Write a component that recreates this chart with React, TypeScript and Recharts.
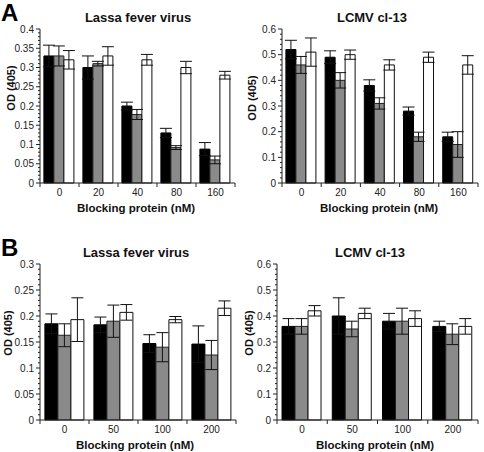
import { Bar, BarChart, ErrorBar, XAxis, YAxis } from "recharts";

const FONT = '"Liberation Sans", Arial, Helvetica, sans-serif';

// panel A: dose series
const dosesA = ["0", "20", "40", "80", "160"];
const lassaA_black = [0.33, 0.3, 0.2, 0.13, 0.088];
const lassaA_blackErr = [0.028, 0.03, 0.01, 0.012, 0.017];
const lassaA_gray = [0.33, 0.31, 0.178, 0.092, 0.06];
const lassaA_grayErr = [0.026, 0.006, 0.013, 0.005, 0.01];
const lassaA_white = [0.32, 0.33, 0.32, 0.3, 0.28];
const lassaA_whiteErr = [0.024, 0.024, 0.014, 0.016, 0.01];

const lcmvA_black = [0.52, 0.49, 0.38, 0.28, 0.18];
const lcmvA_blackErr = [0.036, 0.025, 0.022, 0.016, 0.018];
const lcmvA_gray = [0.46, 0.4, 0.31, 0.18, 0.15];
const lcmvA_grayErr = [0.033, 0.03, 0.022, 0.018, 0.05];
const lcmvA_white = [0.51, 0.5, 0.46, 0.49, 0.46];
const lcmvA_whiteErr = [0.055, 0.018, 0.02, 0.02, 0.036];

// panel B
const dosesB = ["0", "50", "100", "200"];
const lassaB_black = [0.185, 0.183, 0.147, 0.146];
const lassaB_blackErr = [0.019, 0.015, 0.017, 0.035];
const lassaB_gray = [0.163, 0.19, 0.14, 0.125];
const lassaB_grayErr = [0.022, 0.031, 0.028, 0.028];
const lassaB_white = [0.193, 0.207, 0.193, 0.215];
const lassaB_whiteErr = [0.042, 0.015, 0.006, 0.014];

const lcmvB_black = [0.36, 0.4, 0.38, 0.36];
const lcmvB_blackErr = [0.03, 0.07, 0.03, 0.02];
const lcmvB_gray = [0.36, 0.35, 0.38, 0.33];
const lcmvB_grayErr = [0.03, 0.03, 0.05, 0.04];
const lcmvB_white = [0.42, 0.41, 0.39, 0.36];
const lcmvB_whiteErr = [0.02, 0.02, 0.03, 0.03];

const ticks005_04 = [0, 0.05, 0.1, 0.15, 0.2, 0.25, 0.3, 0.35, 0.4];
const ticks01_06 = [0, 0.1, 0.2, 0.3, 0.4, 0.5, 0.6];
const ticks005_03 = [0, 0.05, 0.1, 0.15, 0.2, 0.25, 0.3];

function withMinor(majors: number[]) {
  const out: number[] = [];
  for (let i = 0; i < majors.length; i++) {
    out.push(majors[i]);
    if (i < majors.length - 1) {
      const step = (majors[i + 1] - majors[i]) / 5;
      for (let k = 1; k < 5; k++) out.push(majors[i] + step * k);
    }
  }
  return out;
}

function rows(cats: string[], b: number[], bE: number[], g: number[], gE: number[], w: number[], wE: number[]) {
  return cats.map((c, i) => ({ dose: c, b: b[i], bE: bE[i], g: g[i], gE: gE[i], w: w[i], wE: wE[i] }));
}

const W = 242;
const H = 226;

interface PanelProps {
  left: number;
  top: number;
  title: string;
  titleX: number;
  letter?: string;
  cats: string[];
  data: any[];
  yMax: number;
  majors: number[];
  plot: { l: number; r: number; t: number; b: number };
  yLabel: { x: number; y: number };
  xLabelX: number;
}

function Panel({ left, top, title, titleX, letter, cats, data, yMax, majors, plot, yLabel, xLabelX }: PanelProps) {
  const band = (plot.r - plot.l) / cats.length;
  const isMajor = (v: number) => majors.some((m) => Math.abs(m - v) < 1e-9);

  const YTick = (p: any) => {
    const v = p.payload.value;
    const major = isMajor(v);
    return (
      <g>
        <line x1={p.x - (major ? 4 : 2)} x2={p.x} y1={p.y} y2={p.y} stroke="#222" strokeWidth={1} />
        {major && (
          <text x={p.x - 6} y={p.y + 3.5} textAnchor="end" fontSize={10} fontFamily={FONT} fill="#222">
            {String(Number(v.toFixed(3)))}
          </text>
        )}
      </g>
    );
  };

  const XTick = (p: any) => (
    <g>
      <text x={p.x} y={p.y + 13} textAnchor="middle" fontSize={10} fontFamily={FONT} fill="#222">
        {p.payload.value}
      </text>
      <line x1={p.x + band / 2} x2={p.x + band / 2} y1={p.y} y2={p.y + 4} stroke="#222" />
      {p.index === 0 && <line x1={p.x - band / 2} x2={p.x - band / 2} y1={p.y} y2={p.y + 4} stroke="#222" />}
    </g>
  );

  return (
    <div style={{ position: "absolute", left, top, width: W, height: H }}>
      <BarChart
        width={W}
        height={H}
        data={data}
        margin={{ top: plot.t, right: W - plot.r, bottom: 0, left: 0 }}
        barCategoryGap="10%"
        barGap={0}
      >
        <XAxis
          xAxisId="bottom"
          dataKey="dose"
          height={H - plot.b}
          tickSize={0}
          tickMargin={0}
          tickLine={false}
          tick={XTick}
          interval={0}
          stroke="#222"
        />
        <XAxis xAxisId="top" dataKey="dose" orientation="top" height={0} tick={false} tickLine={false} stroke="#888" />
        <YAxis
          yAxisId="left"
          width={plot.l}
          domain={[0, yMax]}
          ticks={withMinor(majors)}
          interval={0}
          tickSize={0}
          tickMargin={0}
          tickLine={false}
          tick={YTick}
          stroke="#222"
        />
        <YAxis yAxisId="right" orientation="right" width={0} domain={[0, yMax]} tick={false} tickLine={false} stroke="#888" />
        <Bar xAxisId="bottom" yAxisId="left" dataKey="b" fill="#000" stroke="#000" isAnimationActive={false}>
          <ErrorBar dataKey="bE" width={6} stroke="#111" strokeWidth={1} direction="y" />
        </Bar>
        <Bar xAxisId="bottom" yAxisId="left" dataKey="g" fill="#8a8a8a" stroke="#222" isAnimationActive={false}>
          <ErrorBar dataKey="gE" width={6} stroke="#111" strokeWidth={1} direction="y" />
        </Bar>
        <Bar xAxisId="bottom" yAxisId="left" dataKey="w" fill="#fff" stroke="#111" isAnimationActive={false}>
          <ErrorBar dataKey="wE" width={6} stroke="#111" strokeWidth={1} direction="y" />
        </Bar>
      </BarChart>
      <svg width={W} height={H} style={{ position: "absolute", left: 0, top: 0, pointerEvents: "none" }}>
        {letter && (
          <text x={1} y={plot.t - 8} fontSize={24} fontWeight="bold" fontFamily={FONT} fill="#000">
            {letter}
          </text>
        )}
        <text x={titleX} y={plot.t - 7} textAnchor="middle" fontSize={13} fontWeight="bold" fontFamily={FONT} fill="#111">
          {title}
        </text>
        <text
          x={yLabel.x}
          y={yLabel.y}
          transform={`rotate(-90 ${yLabel.x} ${yLabel.y})`}
          textAnchor="middle"
          dominantBaseline="central"
          fontSize={11}
          fontWeight="bold"
          fontFamily={FONT}
          fill="#111"
        >
          OD (405)
        </text>
        <text x={xLabelX} y={plot.b + 29} textAnchor="middle" fontSize={11.5} fontWeight="bold" fontFamily={FONT} fill="#111">
          Blocking protein (nM)
        </text>
      </svg>
    </div>
  );
}

export default function App() {
  return (
    <div style={{ position: "absolute", left: 0, top: 0, width: 484, height: 452, background: "#fff" }}>
      <Panel
        left={0}
        top={0}
        letter="A"
        title="Lassa fever virus"
        titleX={138}
        cats={dosesA}
        data={rows(dosesA, lassaA_black, lassaA_blackErr, lassaA_gray, lassaA_grayErr, lassaA_white, lassaA_whiteErr)}
        yMax={0.4}
        majors={ticks005_04}
        plot={{ l: 40, r: 235, t: 29, b: 183 }}
        yLabel={{ x: 11, y: 88 }}
        xLabelX={136}
      />
      <Panel
        left={242}
        top={0}
        title="LCMV cl-13"
        titleX={130}
        cats={dosesA}
        data={rows(dosesA, lcmvA_black, lcmvA_blackErr, lcmvA_gray, lcmvA_grayErr, lcmvA_white, lcmvA_whiteErr)}
        yMax={0.6}
        majors={ticks01_06}
        plot={{ l: 40, r: 236, t: 29, b: 183 }}
        yLabel={{ x: 10, y: 98 }}
        xLabelX={137}
      />
      <Panel
        left={0}
        top={226}
        letter="B"
        title="Lassa fever virus"
        titleX={136}
        cats={dosesB}
        data={rows(dosesB, lassaB_black, lassaB_blackErr, lassaB_gray, lassaB_grayErr, lassaB_white, lassaB_whiteErr)}
        yMax={0.3}
        majors={ticks005_03}
        plot={{ l: 40, r: 236, t: 38, b: 194 }}
        yLabel={{ x: 8, y: 107 }}
        xLabelX={135}
      />
      <Panel
        left={242}
        top={226}
        title="LCMV cl-13"
        titleX={128}
        cats={dosesB}
        data={rows(dosesB, lcmvB_black, lcmvB_blackErr, lcmvB_gray, lcmvB_grayErr, lcmvB_white, lcmvB_whiteErr)}
        yMax={0.6}
        majors={ticks01_06}
        plot={{ l: 35, r: 236, t: 38, b: 194 }}
        yLabel={{ x: 7, y: 107 }}
        xLabelX={133}
      />
    </div>
  );
}
